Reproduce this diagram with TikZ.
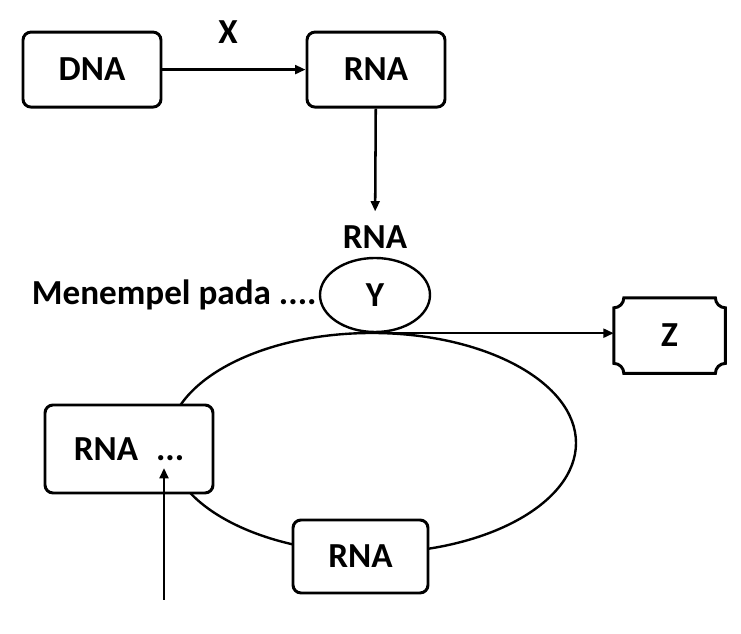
\documentclass[tikz,border=0pt]{standalone}
\usepackage{fontspec}
\setmainfont{Carlito}
\usetikzlibrary{arrows.meta,positioning,calc,shapes.geometric}

\begin{document}
\begin{tikzpicture}[
    font=\fontsize{25}{30}\selectfont\bfseries,
    box/.style={draw,line width=2.1pt,rounded corners=2mm,fill=white,minimum width=3.45cm,minimum height=1.875cm},
    loop/.style={ellipse,draw,line width=1.7pt,inner sep=0pt},
    arrow/.style={-{Triangle[length=2.6mm,width=2.2mm]},line width=1.8pt}
]
\useasboundingbox (0,0) rectangle (18.525,15.85);
\node[box] (dna) at (2.3,14.11) {DNA};
\node[box] (mrna) at (9.4,14.11) {RNA};
\node (x) at (5.7,15.05) {X};
\draw[arrow] (dna) -- (mrna);
\node (rnalbl) at (9.375,9.925) {RNA};
\draw[arrow,shorten >=0.23cm] (mrna) -- (rnalbl);
% ribosome loop
\node[loop,minimum width=10.2cm,minimum height=5.5cm] (ring) at (9.3,4.775) {};
\node[loop,minimum width=2.75cm,minimum height=1.85cm] (y) at (9.375,8.475) {Y};
\node[inner sep=0pt,left=0.05cm of y] (stick) {Menempel pada ....};
\node[minimum width=2.775cm,minimum height=1.875cm] (z) at (16.74,7.46) {Z};
\draw[line width=2.1pt] ([xshift=2.5mm]z.north west) -- ([xshift=-2.5mm]z.north east)
    arc[start angle=180,end angle=270,radius=2.5mm] -- ([yshift=2.5mm]z.south east)
    arc[start angle=90,end angle=180,radius=2.5mm] -- ([xshift=2.5mm]z.south west)
    arc[start angle=0,end angle=90,radius=2.5mm] -- ([yshift=-2.5mm]z.north west)
    arc[start angle=270,end angle=360,radius=2.5mm] -- cycle;
\draw[arrow] (y.south) -- (y.south -| z.west);
\node[box,minimum width=4.2cm,minimum height=2.2cm] (rnax) at (3.225,4.625) {RNA\hspace{0.45cm}...};
\node[box,minimum width=3.375cm,minimum height=1.825cm] (rnab) at (9.0125,1.9375) {RNA};
\coordinate (src) at (4.1,0.85);
\draw[arrow,shorten >=0.475cm] (src) -- (src |- rnax.center);
\end{tikzpicture}
\end{document}
